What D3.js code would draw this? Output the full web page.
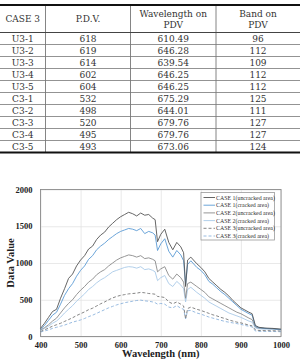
<!DOCTYPE html>
<html>
<head>
<meta charset="utf-8">
<script src="https://cdn.jsdelivr.net/npm/d3@7"></script>
<style>
  html, body { margin: 0; padding: 0; background: #fff; }
  svg { display: block; }
</style>
</head>
<body>
<div id="chart"></div>
<script>
const width = 300;
const height = 360;

// ---- table data ----
const tableHeader = [["CASE 3"], ["P.D.V."], ["Wavelength on", "PDV"], ["Band on", "PDV"]];
const caseNames = ["U3-1", "U3-2", "U3-3", "U3-4", "U3-5", "C3-1", "C3-2", "C3-3", "C3-4", "C3-5"];
const pdvValues = [618, 619, 614, 602, 604, 532, 498, 520, 495, 493];
const pdvWavelengths = ["610.49", "646.28", "639.54", "646.25", "646.25", "675.29", "644.01", "679.76", "679.76", "673.06"];
const pdvBands = [96, 112, 109, 112, 112, 125, 111, 127, 127, 124];

// ---- spectra ----
const wavelengths = [400, 410, 420, 430, 440, 450, 460, 470, 480, 490, 500, 510, 520, 530, 540, 550, 560, 570, 580, 590,
  600, 610, 620, 630, 640, 650, 660, 670, 680, 686, 692, 700, 710, 720, 730, 740, 750, 757, 762, 767,
  775, 790, 800, 810, 820, 830, 840, 850, 860, 870, 880, 890, 900, 910, 920, 928, 936, 945, 960, 980, 1000];

const case1Uncracked = [110, 180, 260, 340, 370, 520, 650, 790, 850, 960, 1040, 1100, 1190, 1230, 1320, 1380, 1420, 1490, 1540, 1590,
  1630, 1660, 1690, 1670, 1640, 1680, 1650, 1660, 1610, 1590, 1290, 1390, 1460, 1280, 1180, 1280, 1220, 1140, 680, 1040,
  1080, 990, 940, 880, 790, 740, 690, 640, 600, 550, 490, 440, 390, 360, 330, 310, 150, 125, 115, 110, 100];
const case1Cracked = [100, 150, 220, 290, 330, 440, 560, 650, 720, 820, 900, 960, 1050, 1100, 1180, 1230, 1270, 1320, 1360, 1400,
  1430, 1450, 1470, 1460, 1440, 1470, 1400, 1430, 1410, 1380, 1170, 1260, 1330, 1160, 1080, 1170, 1110, 1030, 700, 980,
  1030, 940, 900, 840, 750, 710, 660, 610, 570, 520, 470, 420, 370, 340, 310, 290, 140, 120, 110, 105, 95];
const case2Uncracked = [90, 120, 160, 210, 250, 320, 390, 450, 500, 570, 630, 680, 740, 780, 840, 880, 910, 960, 1000, 1040,
  1070, 1090, 1110, 1100, 1080, 1100, 1060, 1070, 1050, 1030, 880, 920, 950, 830, 780, 850, 800, 740, 520, 720,
  740, 680, 640, 600, 540, 510, 480, 450, 420, 390, 360, 330, 310, 280, 250, 230, 130, 115, 110, 105, 95];
const case2Cracked = [80, 110, 140, 180, 210, 260, 320, 370, 420, 480, 530, 580, 640, 680, 730, 770, 800, 840, 880, 900,
  920, 940, 950, 945, 930, 950, 910, 920, 900, 880, 760, 800, 830, 720, 680, 750, 700, 650, 470, 640,
  670, 600, 560, 520, 470, 440, 410, 380, 350, 320, 300, 280, 260, 235, 210, 195, 115, 105, 100, 100, 90];
const case3Uncracked = [70, 90, 115, 140, 160, 180, 205, 230, 255, 285, 310, 335, 365, 385, 415, 445, 470, 500, 525, 545,
  560, 570, 580, 585, 590, 600, 595, 585, 580, 575, 545, 540, 530, 470, 445, 470, 440, 415, 240, 380,
  400, 370, 355, 335, 315, 295, 280, 260, 245, 225, 210, 195, 185, 170, 155, 145, 90, 82, 80, 78, 75];
const case3Cracked = [60, 75, 90, 110, 125, 140, 155, 175, 195, 210, 225, 245, 270, 290, 315, 340, 365, 390, 410, 430,
  445, 460, 470, 480, 490, 495, 485, 480, 470, 460, 440, 450, 440, 400, 390, 420, 385, 370, 240, 350,
  355, 320, 305, 285, 265, 250, 235, 220, 205, 195, 185, 175, 165, 150, 140, 130, 75, 70, 70, 68, 65];

const seriesNames = ["CASE 1(uncracked area)", "CASE 1(cracked area)", "CASE 2(uncracked area)",
  "CASE 2(cracked area)", "CASE 3(uncracked area)", "CASE 3(cracked area)"];
const seriesValues = [case1Uncracked, case1Cracked, case2Uncracked, case2Cracked, case3Uncracked, case3Cracked];
const xTicks = [400, 500, 600, 700, 800, 900, 1000];
const yTicks = [0, 500, 1000, 1500, 2000];

const seriesColors = ["#555555", "#5b9bd5", "#8a8a8a", "#a9c9e8", "#777777", "#8db3dc"];
const seriesDash = [null, null, null, null, "3,2", "3,2"];

const svg = d3.select("#chart").append("svg")
  .attr("width", width)
  .attr("height", height);

// ---------------- table ----------------
const colEdges = [0, 45.5, 130.5, 216, 300];
const tableTop = 5, headerBottom = 32.5, rowH = 12;
const tableBottom = headerBottom + rowH * caseNames.length;
const tableFont = "'DejaVu Serif', serif";

const table = svg.append("g").attr("class", "table");

// vertical lines
table.selectAll("line.vcol")
  .data(colEdges.slice(1, -1))
  .enter().append("line")
  .attr("x1", d => d).attr("x2", d => d)
  .attr("y1", tableTop).attr("y2", tableBottom)
  .attr("stroke", "#666").attr("stroke-width", 0.8);

// row lines
table.selectAll("line.row")
  .data(d3.range(1, caseNames.length))
  .enter().append("line")
  .attr("x1", 0).attr("x2", width)
  .attr("y1", i => headerBottom + i * rowH).attr("y2", i => headerBottom + i * rowH)
  .attr("stroke", "#777").attr("stroke-width", 0.8);

table.append("line")
  .attr("x1", 0).attr("x2", width)
  .attr("y1", headerBottom).attr("y2", headerBottom)
  .attr("stroke", "#444").attr("stroke-width", 1);

[tableTop, tableBottom].forEach(yy => {
  table.append("line")
    .attr("x1", 0).attr("x2", width)
    .attr("y1", yy).attr("y2", yy)
    .attr("stroke", "#111").attr("stroke-width", 1.8);
});

const colCenter = i => (colEdges[i] + colEdges[i + 1]) / 2;

// header text
tableHeader.forEach((lines, i) => {
  const mid = (tableTop + headerBottom) / 2;
  lines.forEach((t, j) => {
    table.append("text")
      .attr("x", colCenter(i))
      .attr("y", mid + (j - (lines.length - 1) / 2) * 11 + 3.5)
      .attr("text-anchor", "middle")
      .style("font-family", tableFont)
      .style("font-size", "9px")
      .style("fill", "#333")
      .text(t);
  });
});

// body text
const rows = caseNames.map((c, i) => [c, pdvValues[i], pdvWavelengths[i], pdvBands[i]]);
rows.forEach((r, i) => {
  r.forEach((v, j) => {
    table.append("text")
      .attr("x", colCenter(j))
      .attr("y", headerBottom + i * rowH + rowH / 2 + 3.3)
      .attr("text-anchor", "middle")
      .style("font-family", tableFont)
      .style("font-size", "9px")
      .style("fill", "#333")
      .text(v);
  });
});

// ---------------- chart ----------------
const plot = { left: 40.5, right: 281, top: 189.5, bottom: 336.5 };

const x = d3.scaleLinear().domain([400, 1000]).range([plot.left, plot.right]);
const y = d3.scaleLinear().domain([0, 2000]).range([plot.bottom, plot.top]);

const chart = svg.append("g").attr("class", "chart");
const axisFont = "'Liberation Serif', 'Times New Roman', serif";

// grid
chart.append("g")
  .attr("transform", `translate(0,${plot.bottom})`)
  .call(d3.axisBottom(x).tickValues(xTicks).tickSize(-(plot.bottom - plot.top)).tickFormat(""))
  .call(g => g.select(".domain").remove())
  .selectAll("line").attr("stroke", "#e3e3e3").attr("stroke-width", 0.8);

chart.append("g")
  .attr("transform", `translate(${plot.left},0)`)
  .call(d3.axisLeft(y).tickValues(yTicks).tickSize(-(plot.right - plot.left)).tickFormat(""))
  .call(g => g.select(".domain").remove())
  .selectAll("line").attr("stroke", "#e3e3e3").attr("stroke-width", 0.8);

// frame
chart.append("rect")
  .attr("x", plot.left).attr("y", plot.top)
  .attr("width", plot.right - plot.left).attr("height", plot.bottom - plot.top)
  .attr("fill", "none").attr("stroke", "#8c8c8c").attr("stroke-width", 0.9);

// axes labels
const xAxis = chart.append("g")
  .attr("transform", `translate(0,${plot.bottom})`)
  .call(d3.axisBottom(x).tickValues(xTicks).tickFormat(d3.format("d")).tickSize(0).tickPadding(5));
xAxis.select(".domain").remove();
xAxis.selectAll("text")
  .style("font-family", axisFont).style("font-size", "8.5px")
  .style("font-weight", "bold").style("fill", "#222");

const yAxis = chart.append("g")
  .attr("transform", `translate(${plot.left},0)`)
  .call(d3.axisLeft(y).tickValues(yTicks).tickFormat(d3.format("d")).tickSize(0).tickPadding(8));
yAxis.select(".domain").remove();
yAxis.selectAll("text")
  .style("font-family", axisFont).style("font-size", "8.5px")
  .style("font-weight", "bold").style("fill", "#222");

chart.append("text")
  .attr("x", (plot.left + plot.right) / 2)
  .attr("y", 357)
  .attr("text-anchor", "middle")
  .style("font-family", axisFont).style("font-size", "10.5px")
  .style("font-weight", "bold").style("fill", "#222")
  .text("Wavelength (nm)");

chart.append("text")
  .attr("transform", `translate(14,${(plot.top + plot.bottom) / 2}) rotate(-90)`)
  .attr("text-anchor", "middle")
  .style("font-family", axisFont).style("font-size", "10.5px")
  .style("font-weight", "bold").style("fill", "#222")
  .text("Data Value");

// lines
const line = d3.line()
  .x((d, i) => x(wavelengths[i]))
  .y(d => y(d));

// draw back-to-front so the dark lines sit on top
const order = [5, 4, 3, 2, 1, 0];
chart.selectAll("path.series")
  .data(order)
  .enter().append("path")
  .attr("class", "series")
  .attr("d", i => line(seriesValues[i]))
  .attr("fill", "none")
  .attr("stroke", i => seriesColors[i])
  .attr("stroke-width", 0.9)
  .attr("stroke-dasharray", i => seriesDash[i]);

// legend
const legend = chart.append("g").attr("class", "legend");
const lg = { x: 201, y: 192.5, w: 73.5, h: 47.5, row: 7.7 };
legend.append("rect")
  .attr("x", lg.x).attr("y", lg.y).attr("width", lg.w).attr("height", lg.h)
  .attr("fill", "#fff").attr("stroke", "#999").attr("stroke-width", 0.8);

const items = legend.selectAll("g.item")
  .data(seriesNames)
  .enter().append("g")
  .attr("class", "item")
  .attr("transform", (d, i) => `translate(${lg.x},${lg.y + 5 + i * lg.row})`);

items.append("line")
  .attr("x1", 2.5).attr("x2", 14)
  .attr("y1", 0).attr("y2", 0)
  .attr("stroke", (d, i) => seriesColors[i])
  .attr("stroke-width", 0.9)
  .attr("stroke-dasharray", (d, i) => seriesDash[i]);

items.append("text")
  .attr("x", 15)
  .attr("y", 2)
  .style("font-family", axisFont).style("font-size", "5.9px")
  .style("fill", "#333")
  .text(d => d);
</script>
</body>
</html>
